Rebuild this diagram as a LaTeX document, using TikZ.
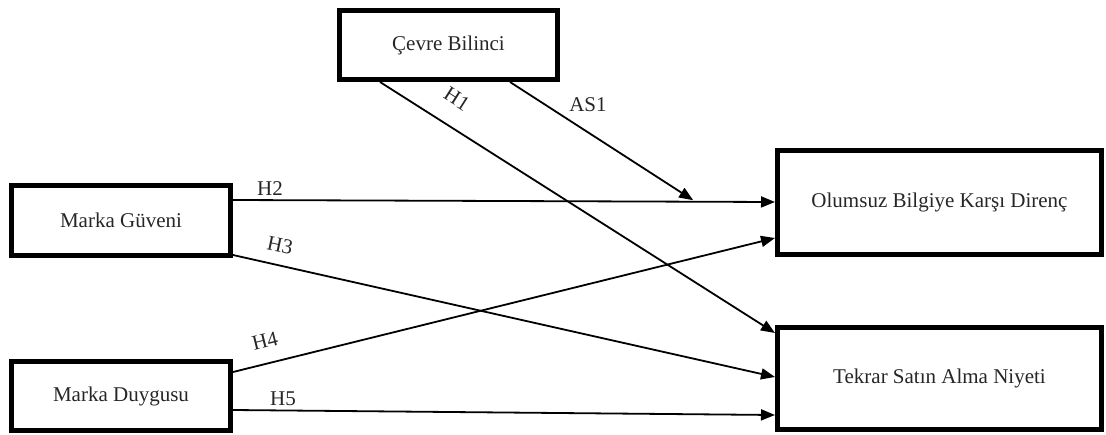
\documentclass[tikz,border=0pt]{standalone}
\usepackage{fontspec}
\setmainfont{Liberation Serif}
\usetikzlibrary{arrows.meta}
\begin{document}
\begin{tikzpicture}[x=1pt,y=-1pt,
  box/.style={draw, line width=5pt, rectangle, inner sep=0pt, text=black!85, font=\fontsize{21}{25}\selectfont},
  conn/.style={line width=1.8pt, -{Triangle[length=14pt,width=11pt]}},
  lab/.style={font=\fontsize{21}{25}\selectfont, inner sep=0pt, text=black!85}]
\useasboundingbox (0,0) rectangle (1106,434);
% boxes
\node[box, minimum width=218pt, minimum height=69pt] (cb) at (448.5,45) {Çevre Bilinci};
\node[box, minimum width=219pt, minimum height=70pt] (gv) at (121,220.5) {Marka Güveni};
\node[box, minimum width=219pt, minimum height=69pt] (md) at (121,396) {Marka Duygusu};
\node[box, minimum width=324pt, minimum height=104pt] (ob) at (939.5,202.5) {Olumsuz Bilgiye Karşı Direnç};
\node[box, minimum width=324pt, minimum height=102pt] (ts) at (939.5,378.5) {Tekrar Satın Alma Niyeti};
% connectors
\draw[conn] ([yshift=20.5pt]gv.east) -- ([yshift=0.5pt]ob.west) coordinate[pos=0.849] (m);
\draw[conn] ([yshift=3pt]gv.south east) -- ([yshift=1.5pt]ts.west);
\draw[conn] ([yshift=24pt]md.east) -- ([yshift=-35.5pt]ob.west);
\draw[conn] ([yshift=-14pt]md.east) -- ([yshift=-36.5pt]ts.west);
\draw[conn] ([xshift=-68.5pt]cb.south) -- ([yshift=45.5pt]ts.west);
\draw[conn] ([xshift=61.5pt]cb.south) -- ([yshift=1.5pt]m);
% labels
\node[lab, rotate=-32.5] (lH1) at (457,99) {H1};
\node[lab] (lAS1) at (588,105) {AS1};
\node[lab] (lH2) at (270,189) {H2};
\node[lab, rotate=-12] (lH3) at (280,245) {H3};
\node[lab, rotate=14] (lH4) at (265,341) {H4};
\node[lab] (lH5) at (283,399) {H5};
\end{tikzpicture}
\end{document}
